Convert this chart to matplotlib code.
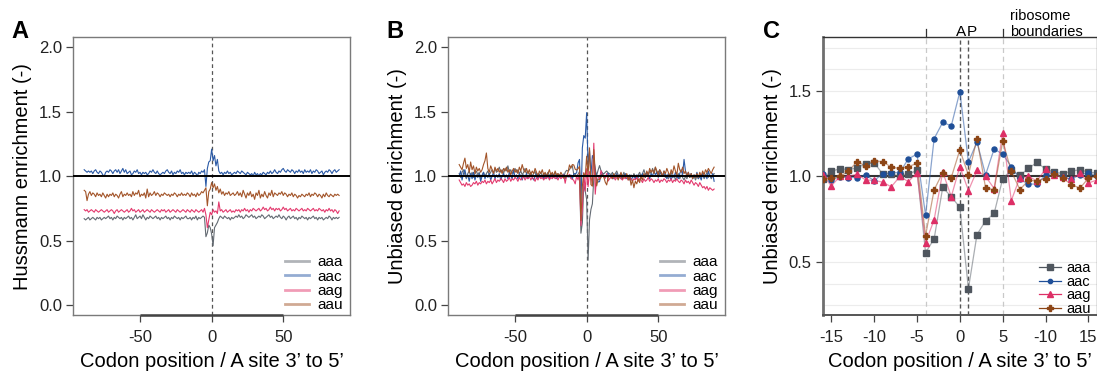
import numpy as np
import matplotlib
matplotlib.use("Agg")
import matplotlib.pyplot as plt
from matplotlib.lines import Line2D

plt.rcParams['font.family'] = ['Liberation Sans', 'DejaVu Sans']

# ---------------- data ----------------
codons = ["aaa", "aac", "aag", "aau"]
pos_full = np.arange(-89, 90)      # panels A and B
pos_zoom = np.arange(-16, 17)      # panel C

# Panel A (Hussmann enrichment), split: left (-89..-17), centre (-16..16), right (17..89)
A_aaa_left = [0.67,0.66,0.67,0.68,0.66,0.67,0.68,0.67,0.66,0.68,
              0.67,0.68,0.66,0.67,0.68,0.67,0.68,0.69,0.67,0.68,
              0.66,0.68,0.67,0.69,0.68,0.67,0.68,0.66,0.68,0.67,
              0.68,0.69,0.67,0.68,0.66,0.68,0.70,0.67,0.68,0.69,
              0.67,0.70,0.68,0.66,0.68,0.67,0.69,0.68,0.67,0.68,
              0.69,0.67,0.68,0.66,0.68,0.67,0.68,0.69,0.67,0.68,
              0.66,0.68,0.67,0.69,0.68,0.67,0.68,0.66,0.68,0.67,
              0.68,0.69,0.67]
A_aaa_mid = [0.67,0.68,0.66,0.68,0.67,0.69,0.66,0.68,0.67,0.68,0.69,
             0.68,0.53,0.56,0.62,0.60,0.55,
             0.46,0.60,0.62,0.64,0.67,0.69,0.68,0.67,0.69,0.68,0.67,0.68,0.66,0.68,0.67,0.68]
A_aaa_right = [0.69,0.68,0.70,0.68,0.69,0.67,0.68,0.70,0.69,0.68,
               0.69,0.70,0.68,0.69,0.67,0.68,0.69,0.68,0.70,0.69,
               0.67,0.68,0.69,0.70,0.68,0.69,0.67,0.68,0.69,0.68,
               0.70,0.68,0.67,0.69,0.68,0.66,0.68,0.69,0.67,0.68,
               0.69,0.67,0.68,0.66,0.68,0.67,0.69,0.68,0.67,0.68,
               0.66,0.68,0.67,0.68,0.69,0.67,0.68,0.66,0.68,0.67,
               0.68,0.66,0.67,0.68,0.67,0.69,0.68,0.66,0.68,0.67,
               0.68,0.67,0.68]

A_aac_left = [1.05,1.04,1.03,1.04,1.03,1.04,1.02,1.04,1.05,1.03,
              1.02,1.04,1.03,1.01,1.00,1.03,1.04,1.03,1.05,1.04,
              1.02,1.04,1.05,1.03,1.05,1.02,1.04,1.06,1.03,1.05,
              1.02,1.03,1.04,1.01,1.02,1.04,1.03,1.05,1.02,1.03,
              1.01,1.03,1.02,1.03,1.01,1.02,1.04,1.03,1.05,1.03,
              1.02,1.04,1.02,1.01,1.02,1.03,1.02,1.04,1.05,1.03,
              1.02,1.04,1.01,1.03,1.02,1.04,1.03,1.05,1.02,1.03,
              1.01,1.03,1.02]
A_aac_mid = [1.03,1.02,1.04,1.01,1.03,1.02,1.00,1.03,1.02,1.04,1.03,
             1.05,0.92,1.06,1.11,1.12,1.21,
             1.12,1.16,1.08,1.13,1.04,1.02,1.03,1.01,1.03,1.02,1.04,1.02,1.03,1.01,1.02,1.03]
A_aac_right = [1.02,1.04,1.03,1.02,1.04,1.03,1.02,1.01,1.03,1.02,
               1.01,1.02,1.00,1.03,1.01,1.02,1.00,1.02,1.01,1.03,
               1.02,1.01,1.03,1.02,1.04,1.02,1.03,1.05,1.03,1.02,
               1.04,1.03,1.05,1.06,1.04,1.03,1.05,1.04,1.03,1.05,
               1.04,1.02,1.04,1.03,1.05,1.03,1.04,1.02,1.05,1.03,
               1.04,1.03,1.05,1.02,1.04,1.03,1.05,1.04,1.02,1.03,
               1.04,1.01,1.03,1.04,1.03,1.05,1.04,1.02,1.04,1.05,
               1.03,1.04,1.05]

A_aag_left = [0.74,0.73,0.74,0.72,0.73,0.74,0.73,0.72,0.74,0.73,
              0.72,0.73,0.74,0.73,0.72,0.73,0.74,0.72,0.73,0.74,
              0.73,0.71,0.73,0.74,0.72,0.73,0.74,0.73,0.72,0.73,
              0.74,0.72,0.73,0.75,0.73,0.74,0.72,0.73,0.74,0.72,
              0.73,0.74,0.72,0.73,0.74,0.73,0.72,0.74,0.73,0.72,
              0.73,0.74,0.73,0.72,0.74,0.73,0.74,0.72,0.73,0.74,
              0.72,0.73,0.74,0.73,0.72,0.74,0.73,0.72,0.73,0.74,
              0.73,0.72,0.74]
A_aag_mid = [0.73,0.72,0.74,0.73,0.72,0.74,0.73,0.72,0.73,0.74,0.72,
             0.75,0.70,0.60,0.66,0.72,0.70,
             0.74,0.72,0.73,0.71,0.80,0.73,0.74,0.72,0.73,0.74,0.72,0.73,0.74,0.72,0.73,0.72]
A_aag_right = [0.74,0.73,0.74,0.72,0.74,0.73,0.75,0.73,0.74,0.72,
               0.74,0.73,0.75,0.74,0.73,0.74,0.75,0.73,0.74,0.76,
               0.74,0.75,0.73,0.74,0.76,0.74,0.75,0.73,0.75,0.74,
               0.75,0.73,0.74,0.76,0.74,0.75,0.73,0.74,0.75,0.73,
               0.74,0.73,0.75,0.74,0.73,0.74,0.75,0.73,0.74,0.73,
               0.75,0.74,0.73,0.74,0.75,0.73,0.74,0.73,0.75,0.74,
               0.73,0.74,0.72,0.74,0.73,0.75,0.73,0.74,0.72,0.74,
               0.73,0.71,0.73]

A_aau_left = [0.89,0.88,0.81,0.86,0.88,0.85,0.87,0.86,0.84,0.87,
              0.85,0.86,0.84,0.87,0.85,0.83,0.86,0.84,0.86,0.85,
              0.87,0.84,0.86,0.85,0.83,0.86,0.88,0.84,0.86,0.85,
              0.87,0.85,0.86,0.84,0.88,0.85,0.87,0.86,0.89,0.84,
              0.86,0.85,0.87,0.83,0.90,0.84,0.87,0.85,0.86,0.88,
              0.85,0.87,0.86,0.84,0.86,0.85,0.87,0.86,0.85,0.86,
              0.84,0.86,0.85,0.87,0.86,0.84,0.86,0.85,0.87,0.85,
              0.86,0.85,0.87]
A_aau_mid = [0.86,0.84,0.87,0.85,0.86,0.84,0.87,0.85,0.86,0.88,0.87,
             0.89,0.91,0.77,0.88,0.90,0.95,
             0.91,0.94,0.89,0.92,0.87,0.90,0.86,0.88,0.85,0.87,0.86,0.88,0.85,0.86,0.87,0.85]
A_aau_right = [0.86,0.88,0.85,0.87,0.84,0.89,0.86,0.83,0.87,0.85,
               0.88,0.84,0.86,0.82,0.87,0.85,0.89,0.83,0.86,0.84,
               0.88,0.85,0.83,0.87,0.85,0.89,0.84,0.87,0.86,0.85,
               0.87,0.86,0.88,0.85,0.87,0.86,0.84,0.86,0.85,0.87,
               0.84,0.86,0.85,0.83,0.85,0.84,0.86,0.85,0.84,0.86,
               0.85,0.87,0.84,0.86,0.85,0.87,0.86,0.84,0.86,0.85,
               0.83,0.86,0.84,0.87,0.85,0.84,0.86,0.85,0.84,0.86,
               0.85,0.86,0.85]

# Panel C (unbiased enrichment, positions -16..16); also the centre of panel B
C_aaa = [0.985,1.03,1.045,1.04,1.05,1.075,1.08,1.015,1.015,1.0,1.015,
         1.035,0.557,0.637,0.936,0.883,0.82,
         0.347,0.662,0.742,0.785,0.988,1.037,1.006,1.047,1.082,1.043,1.025,1.017,1.03,1.04,1.025,1.02]
C_aac = [1.017,0.98,0.998,0.994,0.994,1.01,0.975,1.017,1.02,1.025,1.103,
         1.13,0.775,1.22,1.315,1.295,1.493,
         1.085,1.20,1.01,1.16,1.13,1.058,0.985,0.955,0.957,1.008,1.023,0.995,0.985,1.01,1.023,1.0]
C_aag = [1.01,0.945,1.0,1.0,1.014,0.98,0.977,0.967,0.94,1.0,0.97,
         1.023,0.615,0.748,1.027,0.883,1.058,
         0.918,1.035,1.0,0.93,1.256,0.86,0.994,1.0,0.975,1.043,1.01,0.995,0.985,1.02,0.962,0.98]
C_aau = [0.985,0.99,1.0,1.03,1.087,1.062,1.09,1.087,1.054,1.047,1.058,
         1.076,0.656,0.922,1.023,0.994,1.155,
         1.008,1.22,0.934,0.922,1.206,1.03,0.924,0.977,0.975,0.988,1.012,0.992,0.953,0.932,0.99,1.0]

# Panel B outer parts (-89..-17 and 17..89)
B_aaa_left = [1.02,0.99,1.03,1.05,1.01,0.98,1.02,1.04,1.00,1.03,
              0.99,1.02,1.04,1.01,1.03,0.98,1.01,1.03,1.00,1.02,
              1.04,1.01,1.03,1.05,1.02,1.06,1.03,1.04,1.07,1.03,
              1.05,1.02,1.06,1.04,1.08,1.03,1.05,1.02,1.04,1.06,
              1.03,1.05,1.02,1.04,1.01,1.03,1.06,1.02,1.04,1.01,
              1.03,1.00,1.02,1.04,0.99,1.02,1.01,1.03,1.00,1.02,
              0.98,1.01,1.03,1.00,1.02,0.99,1.01,1.03,1.00,1.02,
              0.99,1.01,1.00]
B_aaa_right = [1.01,1.03,1.00,1.02,1.04,1.01,0.99,1.02,1.00,1.03,
               0.99,1.01,1.00,0.97,1.01,0.99,1.02,1.00,0.98,1.01,
               1.03,1.00,1.02,1.05,1.01,1.03,1.00,1.04,1.02,1.06,
               1.03,1.07,1.02,1.04,1.01,1.03,1.00,1.02,0.99,1.01,
               0.98,1.00,1.03,0.99,1.01,0.97,1.00,1.02,0.98,1.01,
               0.99,0.97,1.00,0.98,1.01,0.99,1.02,0.98,1.00,0.97,
               1.00,0.98,1.01,0.99,1.02,0.98,1.00,1.03,0.99,1.01,
               0.98,1.00,1.02]
B_aac_left = [1.00,1.04,0.97,1.02,1.05,0.99,1.01,0.96,1.02,0.98,
              1.03,0.97,1.01,0.99,1.02,0.96,1.00,1.03,0.98,1.01,
              0.99,1.02,0.97,1.00,1.03,0.98,1.01,0.99,1.02,0.97,
              1.00,1.02,0.99,1.01,0.98,1.03,1.00,0.98,1.05,0.99,
              1.01,0.98,1.02,1.00,0.97,1.01,0.99,1.02,0.98,1.00,
              1.01,0.99,0.97,1.00,1.02,0.98,1.01,0.99,1.00,0.98,
              1.02,0.99,1.01,0.98,1.00,1.02,0.99,1.01,0.98,1.00,
              1.01,0.99,1.00]
B_aac_right = [0.99,1.01,0.98,1.00,1.02,0.99,1.01,0.98,1.00,0.99,
               1.02,0.98,1.00,1.01,0.97,0.99,1.00,0.98,1.01,0.99,
               1.01,0.98,1.02,1.00,0.99,1.03,1.01,0.98,1.02,1.00,
               1.04,1.01,1.03,0.99,1.05,1.02,1.00,1.04,1.01,0.98,
               1.02,1.00,0.97,1.01,0.99,1.03,1.00,0.98,1.02,1.05,
               1.01,1.13,1.04,1.00,1.03,0.99,1.02,0.98,1.01,0.99,
               1.03,0.98,1.00,0.97,1.02,0.99,1.01,0.98,1.04,1.00,
               0.99,1.02,0.96]
B_aag_left = [0.97,0.95,0.93,0.94,0.92,0.95,0.93,0.94,0.92,0.93,
              0.95,0.94,0.96,0.93,0.95,0.94,0.96,0.95,0.97,0.94,
              0.96,0.95,0.97,0.94,0.96,0.98,0.95,0.97,0.96,0.98,
              0.97,0.95,0.98,0.96,0.97,0.99,0.96,0.98,0.97,0.99,
              0.98,0.96,0.99,0.97,0.98,1.00,0.97,0.99,0.98,1.00,
              0.97,0.99,0.98,0.96,0.99,0.97,1.00,0.98,0.99,0.97,
              0.99,0.98,1.00,0.97,0.99,0.98,1.00,0.98,0.99,0.97,
              1.00,0.98,0.99]
B_aag_right = [0.99,0.98,1.00,0.97,0.99,0.98,1.00,0.98,0.97,0.99,
               0.98,1.00,0.97,0.99,0.98,0.96,0.98,0.97,0.99,0.96,
               0.98,0.97,0.95,0.98,0.96,0.97,0.99,0.96,0.98,0.97,
               0.95,0.97,0.96,0.98,0.95,0.97,0.96,0.98,0.97,0.95,
               0.97,0.96,0.98,0.95,0.97,0.96,0.98,0.96,0.95,0.97,
               0.96,0.94,0.97,0.95,0.96,0.94,0.97,0.95,0.93,0.95,
               0.94,0.92,0.95,0.93,0.91,0.92,0.90,0.92,0.89,0.91,
               0.90,0.89,0.90]
B_aau_left = [1.09,1.07,1.05,1.10,1.14,1.06,1.09,1.03,1.11,1.05,
              1.08,1.02,1.07,1.04,1.06,1.03,1.05,1.09,1.12,1.18,
              1.06,1.03,1.08,1.05,1.02,1.07,1.04,1.06,1.03,1.05,
              1.02,1.06,1.04,1.07,1.03,1.05,1.01,1.04,1.06,1.03,
              1.05,1.02,1.07,1.04,1.09,1.05,1.03,1.06,1.02,1.05,
              1.01,1.04,1.02,1.06,1.03,1.00,1.04,1.02,1.05,1.01,
              1.03,1.00,1.02,1.05,1.01,1.03,1.00,1.04,1.01,1.02,
              1.00,1.03,1.01]
B_aau_right = [1.00,0.98,1.02,0.99,1.01,0.97,1.00,1.03,0.98,1.01,
               0.99,1.02,0.97,1.00,0.93,0.97,0.91,0.96,0.94,0.98,
               0.95,1.00,0.97,1.02,0.99,1.04,1.01,1.06,1.03,1.05,
               1.02,1.07,1.04,1.01,1.05,1.03,1.00,1.04,1.02,1.06,
               1.03,1.00,1.05,1.02,1.08,1.04,1.01,1.10,1.05,1.03,
               1.07,1.02,1.04,1.00,1.03,0.99,1.02,0.98,1.01,0.99,
               1.02,0.99,1.03,1.00,1.04,1.01,1.05,1.03,1.06,1.04,
               1.02,1.05,1.07]

A_series = {"aaa": A_aaa_left + A_aaa_mid + A_aaa_right,
            "aac": A_aac_left + A_aac_mid + A_aac_right,
            "aag": A_aag_left + A_aag_mid + A_aag_right,
            "aau": A_aau_left + A_aau_mid + A_aau_right}
B_series = {"aaa": B_aaa_left + C_aaa + B_aaa_right,
            "aac": B_aac_left + C_aac + B_aac_right,
            "aag": B_aag_left + C_aag + B_aag_right,
            "aau": B_aau_left + C_aau + B_aau_right}
C_series = {"aaa": C_aaa, "aac": C_aac, "aag": C_aag, "aau": C_aau}

AB_xticks = [-50, 0, 50]
AB_yticks = [0.0, 0.5, 1.0, 1.5, 2.0]
C_xticks = [-15, -10, -5, 0, 5, 10, 15]
C_xticklabels = ["-15", "-10", "-5", "0", "5", "-10", "15"]
C_yticks = [0.5, 1.0, 1.5]
C_grid = [0.25, 0.375, 0.5, 0.625, 0.75, 0.875, 1.0, 1.125, 1.25, 1.375, 1.5, 1.625, 1.75]
ribo_bounds = [-4, 5]
site_labels = ["A", "P"]
site_AP = [0, 1]

# ---------------- style ----------------
line_col = {"aaa": "#646b73", "aac": "#2b5aa6", "aag": "#e33a6e", "aau": "#a3552a"}
mark_col = {"aaa": "#4f565e", "aac": "#1f4f98", "aag": "#dd2f66", "aau": "#8c4516"}
markers = {"aaa": "s", "aac": "o", "aag": "^", "aau": "P"}
msize = {"aaa": 4.4, "aac": 3.6, "aag": 4.4, "aau": 4.8}

W, H = 1097, 373
fig = plt.figure(figsize=(W / 100, H / 100), dpi=100)

def px_axes(left, right, top, bottom):
    return fig.add_axes([left / W, 1 - bottom / H, (right - left) / W, (bottom - top) / H])

axA = px_axes(73.3, 350.0, 37.3, 315.0)
axB = px_axes(448.3, 725.0, 37.3, 315.0)
axC = px_axes(822.7, 1097.0, 37.3, 315.0)

TICK_FS = 12
LAB_FS = 14.5
LEG_FS = 11

def style_common(ax):
    for s in ax.spines.values():
        s.set_color("#7a7a7a")
        s.set_linewidth(1.0)
    ax.tick_params(direction="out", length=5, width=0.9, color="#444444",
                   labelsize=TICK_FS, labelcolor="#222222", pad=3)

def panel_line(ax, series, ylabel):
    style_common(ax)
    for c in codons:
        ax.plot(pos_full, series[c], color=line_col[c], lw=0.8, zorder=3)
    ax.axhline(1.0, color="black", lw=1.4, zorder=4)
    ax.axvline(0, color="#555555", lw=0.9, ls=(0, (3, 2.5)), zorder=2)
    ax.set_xlim(-96.6, 96.6)
    ax.set_ylim(-0.078, 2.078)
    ax.set_xticks(AB_xticks)
    ax.set_xticklabels([str(t) for t in AB_xticks])
    ax.set_yticks(AB_yticks)
    ax.set_yticklabels([f"{t:.1f}" for t in AB_yticks])
    ax.tick_params(axis="x", pad=6)
    ax.hlines(ax.get_ylim()[0], AB_xticks[0], AB_xticks[-1], color="#444444", lw=1.8,
              clip_on=False, zorder=5)
    ax.set_ylabel(ylabel, fontsize=LAB_FS, labelpad=5)
    ax.set_xlabel("Codon position / A site 3\u2019 to 5\u2019", fontsize=LAB_FS, labelpad=5)
    handles = [Line2D([0], [0], color=line_col[c], lw=2, alpha=0.5) for c in codons]
    ax.legend(handles, codons, loc="lower right", frameon=False, fontsize=LEG_FS,
              handlelength=1.6, handletextpad=0.5, labelspacing=0.02,
              borderaxespad=0.0, bbox_to_anchor=(0.995, -0.012))

panel_line(axA, A_series, "Hussmann enrichment (-)")
panel_line(axB, B_series, "Unbiased enrichment (-)")

# Panel C
ax = axC
style_common(ax)
ax.spines["left"].set_linewidth(2.0)
ax.spines["left"].set_color("#6f6f6f")
ax.spines["top"].set_color("#333333")
ax.spines["bottom"].set_color("#555555")
ax.spines["bottom"].set_linewidth(1.4)
for g in C_grid:
    ax.axhline(g, color="#ececec", lw=0.8, zorder=0)
for b in ribo_bounds:
    ax.axvline(b, color="#c9c9c9", lw=0.9, ls=(0, (4, 3)), zorder=1)
for s in site_AP:
    ax.axvline(s, color="#555555", lw=1.0, ls=(0, (3, 2)), zorder=1)
ax.axhline(1.0, color="#333333", lw=1.5, zorder=2)
for c in codons:
    ax.plot(pos_zoom, C_series[c], color=line_col[c], lw=0.9, alpha=0.55, zorder=3)
    ax.plot(pos_zoom, C_series[c], ls="none", marker=markers[c], ms=msize[c],
            color=mark_col[c], mec=mark_col[c], zorder=4)
ax.set_xlim(-16, 16)
ax.set_ylim(0.194, 1.81)
ax.set_xticks(C_xticks)
ax.set_xticklabels(C_xticklabels)
ax.set_yticks(C_yticks)
ax.set_yticklabels([f"{t:.1f}" for t in C_yticks])
ax.tick_params(axis="x", pad=6)
ax.set_ylabel("Unbiased enrichment (-)", fontsize=LAB_FS, labelpad=5)
ax.set_xlabel("Codon position / A site 3\u2019 to 5\u2019", fontsize=LAB_FS, labelpad=5)
# boundary ticks above the panel
ytop = ax.get_ylim()[1]
for b in ribo_bounds:
    ax.plot([b, b], [ytop, ytop + 0.05], color="#333333", lw=0.9, clip_on=False)
for lab, xs, dx in zip(site_labels, site_AP, (0.15, 0.43)):
    ax.text(xs + dx, ytop - 0.012, lab, ha="center", va="bottom", fontsize=11)
ax.text(5.85, ytop - 0.012, "ribosome\nboundaries", ha="left", va="bottom",
        fontsize=10.5, linespacing=1.2)
handlesC = [Line2D([0], [0], color=mark_col[c], lw=0.9, marker=markers[c],
                   ms=msize[c] * 0.85, mec=mark_col[c]) for c in codons]
ax.legend(handlesC, codons, loc="lower right", frameon=False, fontsize=10.5,
          handlelength=1.5, handletextpad=0.35, labelspacing=-0.02,
          borderaxespad=0.0, bbox_to_anchor=(0.998, -0.025))

# panel letters
for lab, xpx in (("A", 11), ("B", 386), ("C", 763)):
    fig.text(xpx / W, 1 - 32 / H, lab, fontsize=17, fontweight="bold", va="center", ha="left")

fig.savefig("out.png", dpi=100)
